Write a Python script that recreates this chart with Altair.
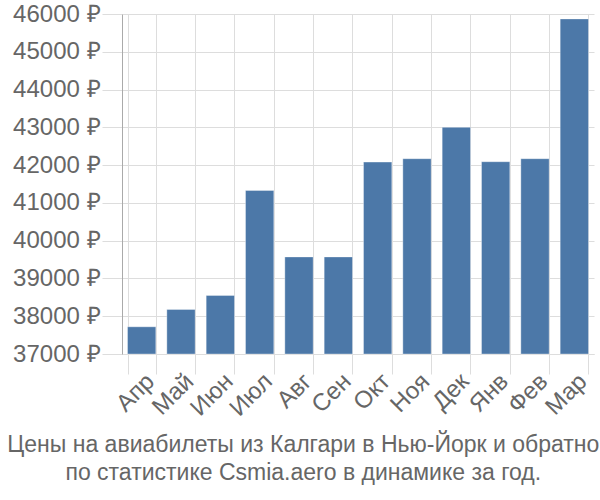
import altair as alt
import pandas as pd

months = ["Апр", "Май", "Июн", "Июл", "Авг", "Сен", "Окт", "Ноя", "Дек", "Янв", "Фев", "Мар"]
prices = [37720, 38180, 38550, 41330, 39570, 39570, 42080, 42170, 43000, 42090, 42170, 45870]
y_ticks = [37000, 38000, 39000, 40000, 41000, 42000, 43000, 44000, 45000, 46000]
title_lines = ["Цены на авиабилеты из Калгари в Нью-Йорк и обратно",
               "по статистике Csmia.aero в динамике за год."]

df = pd.DataFrame({"month": months, "price": prices})

font = "Liberation Sans"

chart = alt.Chart(df).mark_bar(
    color="#4c78a8", stroke="#ffffff", strokeOpacity=0.35, strokeWidth=1
).encode(
    x=alt.X("month:N", sort=months, title=None,
            scale=alt.Scale(paddingInner=0.28, paddingOuter=0.14),
            axis=alt.Axis(labelAngle=-45, labelFontSize=24, labelColor="#666666",
                          labelFont=font, tickSize=20, tickColor="#dddddd",
                          tickBand="extent", gridColor="#dddddd", grid=True,
                          domainColor="#dddddd", labelPadding=-5)),
    y=alt.Y("price:Q", title=None,
            scale=alt.Scale(domain=[37000, 46000], zero=False, nice=False),
            axis=alt.Axis(values=y_ticks, labelExpr="datum.value + ' ₽'",
                          labelFontSize=24, labelColor="#666666", labelFont=font,
                          tickSize=20, tickColor="#dddddd", gridColor="#dddddd",
                          domainColor="#aaaaaa", labelPadding=2)),
    y2=alt.datum(37000),
).properties(
    width=472, height=340,
    padding={"left": 122, "top": 14, "right": 6, "bottom": 146},
    autosize=alt.AutoSizeParams(type="none"),
    title=alt.TitleParams(title_lines, orient="bottom", anchor="middle", frame="bounds",
                          fontSize=23, font=font, fontWeight="normal", color="#666666",
                          offset=14, lineHeight=28),
).configure_view(stroke=None)

chart.save("out.html", embed_options={"renderer": "svg", "actions": False})
